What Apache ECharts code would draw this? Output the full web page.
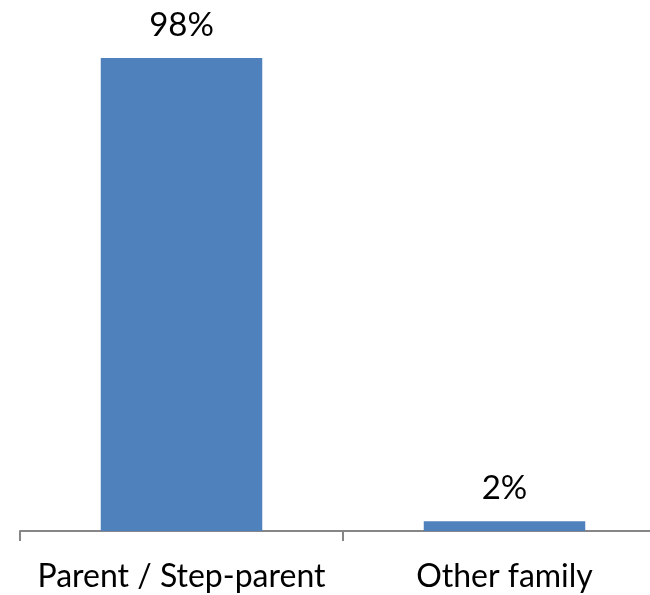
<!DOCTYPE html>
<html>
<head>
<meta charset="utf-8">
<script src="https://cdn.jsdelivr.net/npm/echarts@6/dist/echarts.min.js"></script>
<style>
html,body{margin:0;padding:0;background:#fff;}
#chart{width:650px;height:595px;}
</style>
</head>
<body>
<div id="chart"></div>
<script>
var categories = ['Parent / Step-parent', 'Other family'];
var values = [98, 2];

var chart = echarts.init(document.getElementById('chart'), null, {renderer: 'canvas'});
chart.setOption({
  animation: false,
  backgroundColor: '#ffffff',
  grid: {left: 20, right: -16, top: 48.35, bottom: 64, containLabel: false, outerBoundsMode: 'none'},
  xAxis: {
    type: 'category',
    data: categories,
    axisLine: {show: true, lineStyle: {color: '#868686', width: 2}},
    axisTick: {show: true, length: 10, lineStyle: {color: '#868686', width: 2}},
    axisLabel: {color: '#000000', fontFamily: 'Lato', fontSize: 32, margin: 30, interval: 0}
  },
  yAxis: {
    type: 'value', min: 0, max: 100, show: false,
    splitLine: {show: false}
  },
  series: [{
    type: 'bar',
    data: values,
    barWidth: '50%',
    itemStyle: {color: '#4F81BD'},
    label: {
      show: true, position: 'top', distance: 16,
      formatter: '{c}%', color: '#000000', fontFamily: 'Lato', fontSize: 33
    }
  }]
});
</script>
</body>
</html>
